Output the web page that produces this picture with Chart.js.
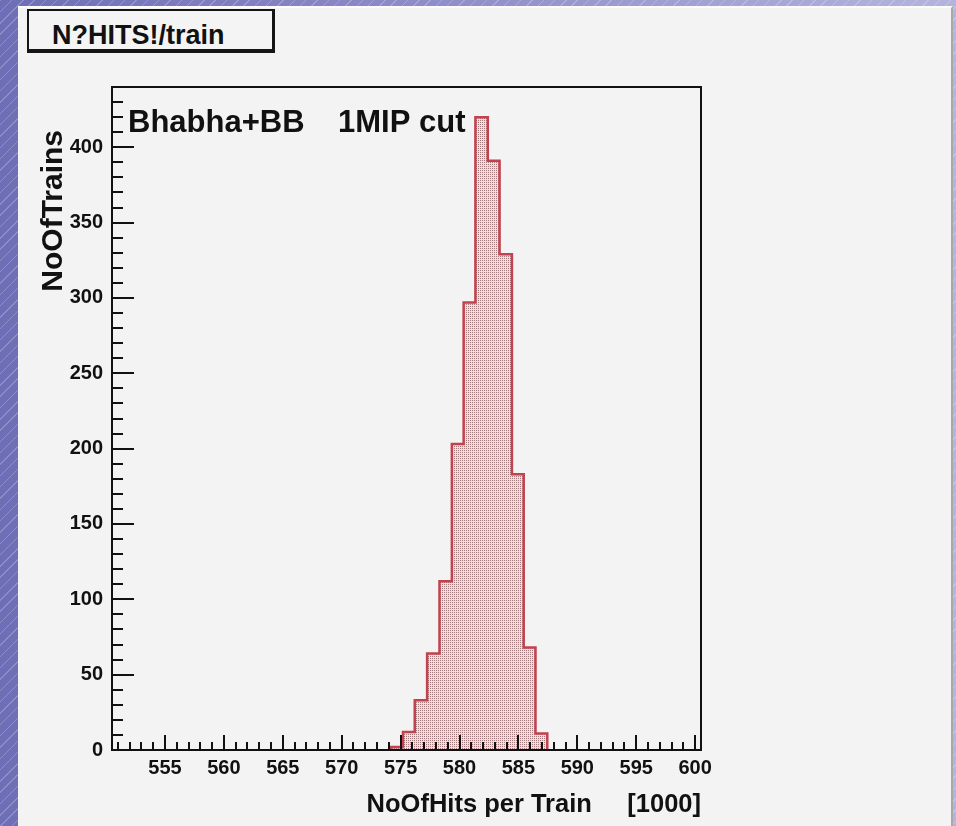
<!DOCTYPE html>
<html><head><meta charset="utf-8">
<script src="https://cdn.jsdelivr.net/npm/chart.js@4.4.0/dist/chart.umd.min.js"></script>
<style>
html,body{margin:0;padding:0;}
body{width:956px;height:826px;overflow:hidden;position:relative;
background: repeating-linear-gradient(135deg, rgba(255,255,255,0.22) 0 1px, rgba(255,255,255,0) 1px 8px), linear-gradient(to right, #6e6eb6, #b4b4de);}
#panel{position:absolute;left:18px;top:6px;width:935px;height:820px;background:#f3f3f3;border-top:2px solid #fbfbfb;border-right:2px solid #a8a8a8;box-sizing:border-box;}
#titlebox{position:absolute;left:27px;top:9px;width:248px;height:44px;box-sizing:border-box;border-style:solid;border-color:#151515;border-width:2px 3px 4px 2px;background:#f4f4f4;}
#titletext{position:absolute;left:52px;top:22px;font:bold 27px/27px "Liberation Sans",Arial,sans-serif;color:#111;white-space:nowrap;}
canvas{position:absolute;left:0;top:0;}
</style></head>
<body>
<div id="panel"></div>
<div id="titlebox"></div>
<div id="titletext">N?HITS!/train</div>
<canvas id="c" width="956" height="826"></canvas>
<script>
// ---- data ----
const binEdges  = [574.15, 575.2, 576.2, 577.25, 578.3, 579.35, 580.35, 581.35, 582.4, 583.4, 584.45, 585.45, 586.45, 587.45];
const binCounts = [2, 12, 33, 64, 112, 203, 297, 420, 391, 329, 183, 68, 11];
const xTickValues = [555, 560, 565, 570, 575, 580, 585, 590, 595, 600];
const yTickValues = [0, 50, 100, 150, 200, 250, 300, 350, 400];
const xRange = [550.5, 600.5];
const yRange = [0, 440];
const xTitle = 'NoOfHits per Train     [1000]';
const yTitle = 'NoOfTrains';
const labelLeft = 'Bhabha+BB';
const labelRight = '1MIP cut';

const FONT = '"Liberation Sans", Arial, Helvetica, sans-serif';
const canvas = document.getElementById('c');
const ctx = canvas.getContext('2d');

// dotted fill pattern (ROOT-like)
const pc = document.createElement('canvas'); pc.width = 2; pc.height = 2;
const pctx = pc.getContext('2d');
pctx.fillStyle = '#f3dcdc'; pctx.fillRect(0, 0, 2, 2);
pctx.fillStyle = '#a07a7c'; pctx.fillRect(0, 0, 1, 1);
const pattern = ctx.createPattern(pc, 'repeat');

// histogram outline points: each point = left edge of a bin with its count
const pts = [{x: binEdges[0], y: 0}];
binCounts.forEach((c, i) => pts.push({x: binEdges[i], y: c}));
pts.push({x: binEdges[binEdges.length - 1], y: 0});

const framePlugin = {
  id: 'rootFrame',
  afterDatasetsDraw(chart) {
    const {ctx, chartArea: a, scales: {x, y}} = chart;
    ctx.save();
    ctx.strokeStyle = '#111'; ctx.lineWidth = 2;
    ctx.beginPath();
    for (let v = yRange[0]; v <= yRange[1]; v += 10) {
      const py = Math.round(y.getPixelForValue(v));
      const len = v % 50 === 0 ? 22 : 11;
      ctx.moveTo(a.left, py); ctx.lineTo(a.left + len, py);
    }
    for (let v = Math.ceil(xRange[0]); v <= xRange[1]; v++) {
      const px = Math.round(x.getPixelForValue(v));
      const len = v % 5 === 0 ? 15 : 8;
      ctx.moveTo(px, a.bottom); ctx.lineTo(px, a.bottom - len);
    }
    ctx.stroke();
    ctx.strokeRect(a.left, a.top, a.right - a.left, a.bottom - a.top);

    ctx.fillStyle = '#111';
    ctx.font = 'bold 31px ' + FONT;
    ctx.textBaseline = 'alphabetic'; ctx.textAlign = 'left';
    ctx.fillText(labelLeft, a.left + 16, a.top + 45);
    ctx.fillText(labelRight, a.left + 226, a.top + 45);

    ctx.font = 'bold 30px ' + FONT;
    ctx.translate(62, a.top + 43);
    ctx.rotate(-Math.PI / 2);
    ctx.textAlign = 'right';
    ctx.fillText(yTitle, 0, 0);
    ctx.restore();
  }
};

new Chart(ctx, {
  type: 'line',
  data: {datasets: [{
    data: pts, stepped: 'before', borderColor: '#c4424f', borderWidth: 2.5,
    backgroundColor: pattern, fill: 'origin', pointRadius: 0, tension: 0
  }]},
  options: {
    responsive: false, animation: false, events: [],
    layout: {padding: {left: 0, top: 87, right: 255, bottom: 0}},
    plugins: {legend: {display: false}, tooltip: {enabled: false}},
    scales: {
      x: {
        type: 'linear', min: xRange[0], max: xRange[1],
        grid: {display: false, drawTicks: false}, border: {display: false},
        afterBuildTicks: s => { s.ticks = xTickValues.map(v => ({value: v})); },
        afterFit: s => { s.height = 76; },
        ticks: {padding: 6, maxRotation: 0, autoSkip: false, color: '#111',
                font: {family: FONT, size: 20, weight: 'bold'}, callback: v => String(v)},
        title: {display: true, text: xTitle, align: 'end', color: '#111',
                padding: {top: 0, bottom: 6}, font: {family: FONT, size: 25.5, weight: 'bold'}}
      },
      y: {
        type: 'linear', min: yRange[0], max: yRange[1],
        grid: {display: false, drawTicks: false}, border: {display: false},
        afterBuildTicks: s => { s.ticks = yTickValues.map(v => ({value: v})); },
        afterFit: s => { s.width = 112; },
        ticks: {padding: 9, autoSkip: false, color: '#111',
                font: {family: FONT, size: 20, weight: 'bold'}, callback: v => String(v)}
      }
    }
  },
  plugins: [framePlugin]
});
</script>
</body></html>
